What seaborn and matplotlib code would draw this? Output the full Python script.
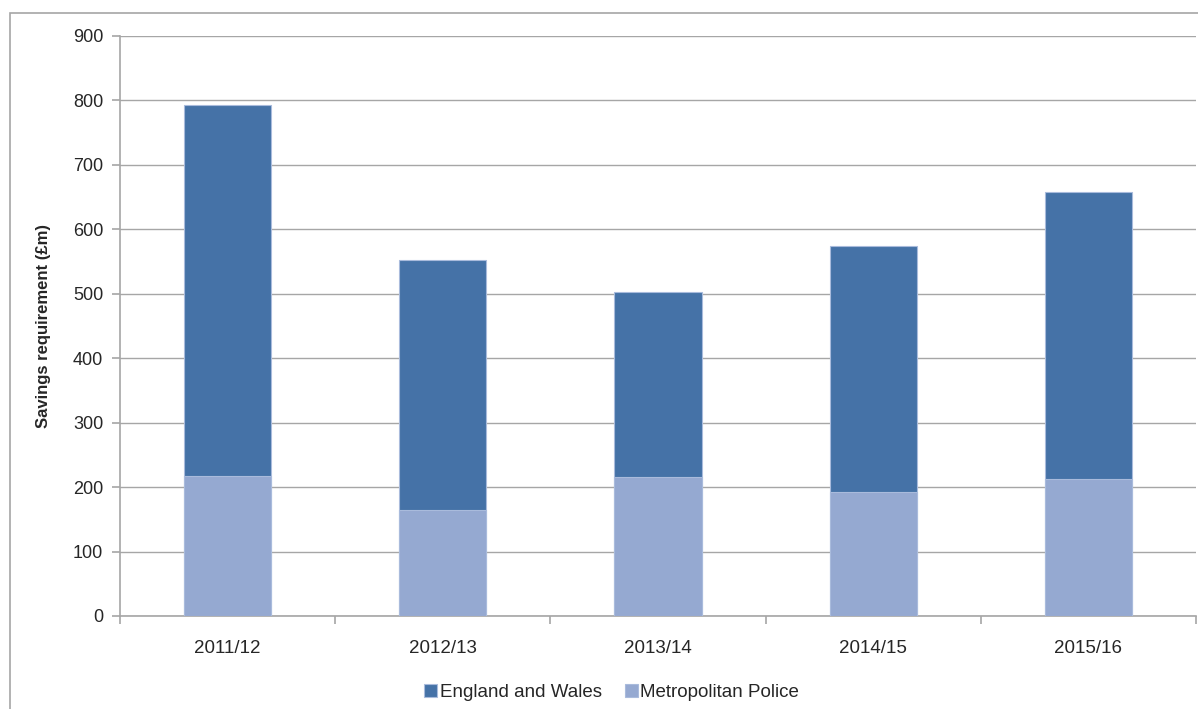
import numpy as np
import pandas as pd
import matplotlib
matplotlib.use("Agg")
import matplotlib.pyplot as plt
from matplotlib.patches import Rectangle
import seaborn as sns

YEARS = ["2011/12", "2012/13", "2013/14", "2014/15", "2015/16"]
MET_POLICE = [218, 165, 215, 192, 213]
ENGLAND_WALES = [575, 388, 287, 382, 445]

DARK = "#4572A7"
LIGHT = "#95A9D1"
EDGE = "#a9bbdc"
GRID = "#a6a6a6"

sns.set_style("white")
plt.rcParams["font.family"] = ["Liberation Sans", "DejaVu Sans"]

df = pd.DataFrame({"year": YEARS, "met": MET_POLICE, "ew": ENGLAND_WALES})
df["total"] = df["met"] + df["ew"]

fig = plt.figure(figsize=(11.98, 7.09), dpi=100)
ax = fig.add_axes([120 / 1198, 1 - 616 / 709, 1076 / 1198, 580 / 709])

# outer chart border (right/bottom run off the image)
fig.patches.append(Rectangle((10 / 1198, -0.05), 1.2, 1 - 13 / 709 + 0.05,
                             transform=fig.transFigure, fill=False,
                             edgecolor=GRID, linewidth=1.2, zorder=0))

sns.barplot(data=df, x="year", y="total", color=DARK, width=0.405,
            saturation=1, ax=ax, label="England and Wales", zorder=3,
            edgecolor=EDGE, linewidth=0.8)
sns.barplot(data=df, x="year", y="met", color=LIGHT, width=0.405,
            saturation=1, ax=ax, label="Metropolitan Police", zorder=3,
            edgecolor=EDGE, linewidth=0.8)

ax.set_ylim(0, 900)
ax.set_xlim(-0.5, 4.5)
ax.set_yticks(np.arange(0, 901, 100))
ax.yaxis.grid(True, color=GRID, linewidth=1)
ax.set_axisbelow(True)
for s in ["top", "right"]:
    ax.spines[s].set_visible(False)
for s in ["left", "bottom"]:
    ax.spines[s].set_color(GRID)
    ax.spines[s].set_linewidth(1.2)

ax.set_xticks(np.arange(-0.5, 5, 1), minor=True)
ax.tick_params(axis="x", which="major", length=0, pad=17, labelsize=13.5)
ax.tick_params(axis="x", which="minor", length=6, color=GRID, width=1.2, direction="out")
ax.tick_params(axis="y", length=6, color=GRID, width=1.2, direction="out", labelsize=13, pad=6)
ax.tick_params(left=True, bottom=True)
ax.tick_params(axis="x", which="minor", bottom=True)

ax.set_xlabel("")
ax.set_ylabel("Savings requirement (£m)", fontsize=12, fontweight="bold", labelpad=16)

handles, labels = ax.get_legend_handles_labels()
ax.legend(handles, labels, loc="lower center", bbox_to_anchor=(0.457, -0.175),
          ncol=2, frameon=False, fontsize=13.5, handlelength=0.7, handleheight=0.7,
          handletextpad=0.15, columnspacing=1.2)

fig.savefig("out.png", dpi=100)
